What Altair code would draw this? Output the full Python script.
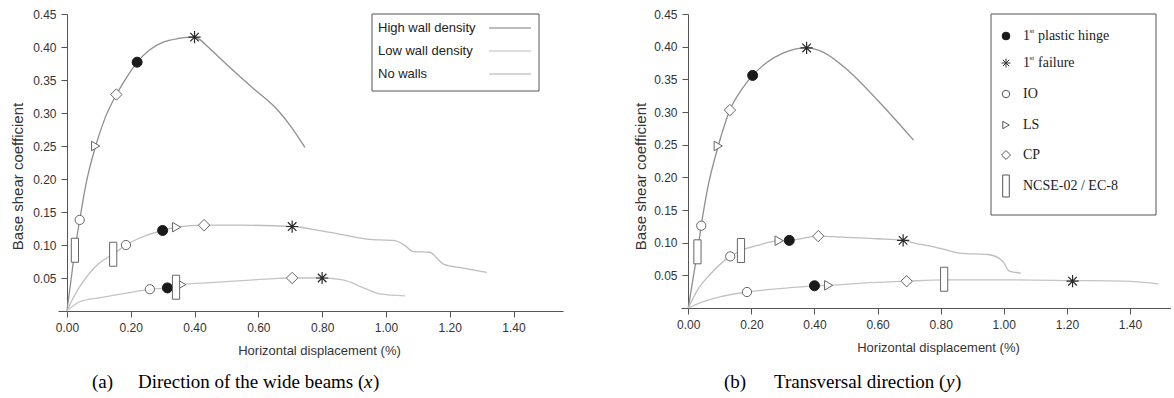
import altair as alt
import pandas as pd

# ---------------- data: panel (a) direction of the wide beams ----------------
SERIES = ["High wall density", "Low wall density", "No walls"]
LINE_COLORS = ["#8f8f8f", "#bdbdbd", "#c4c4c4"]

a_high_x = [0, 0.012, 0.025, 0.04, 0.06, 0.09, 0.12, 0.155, 0.19, 0.22, 0.26, 0.30, 0.35, 0.40, 0.42, 0.44, 0.50, 0.58, 0.66, 0.70, 0.746]
a_high_y = [0, 0.044, 0.092, 0.138, 0.193, 0.25, 0.293, 0.328, 0.356, 0.377, 0.396, 0.407, 0.413, 0.415, 0.410, 0.401, 0.374, 0.339, 0.305, 0.281, 0.248]
a_low_x = [0, 0.02, 0.05, 0.10, 0.145, 0.185, 0.23, 0.27, 0.30, 0.344, 0.43, 0.55, 0.706, 0.803, 0.87, 0.94, 1.028, 1.06, 1.086, 1.138, 1.16, 1.18, 1.242, 1.316]
a_low_y = [0, 0.02, 0.044, 0.072, 0.086, 0.10, 0.111, 0.118, 0.122, 0.127, 0.130, 0.130, 0.128, 0.121, 0.115, 0.109, 0.1065, 0.099, 0.090, 0.089, 0.080, 0.071, 0.065, 0.0586]
a_none_x = [0, 0.04, 0.10, 0.21, 0.26, 0.315, 0.36, 0.45, 0.55, 0.65, 0.706, 0.80, 0.865, 0.94, 0.98, 1.06]
a_none_y = [0, 0.014, 0.02, 0.029, 0.033, 0.035, 0.040, 0.043, 0.046, 0.049, 0.050, 0.050, 0.047, 0.033, 0.026, 0.023]

# markers: [high, low, no walls]
a_mark_x = {
    "hinge":   [0.22, 0.30, 0.315],
    "failure": [0.40, 0.706, 0.80],
    "IO":      [0.04, 0.185, 0.26],
    "LS":      [0.09, 0.344, 0.36],
    "CP":      [0.155, 0.43, 0.706],
    "NCSE":    [0.025, 0.145, 0.342],
}
a_mark_y = {
    "hinge":   [0.377, 0.122, 0.035],
    "failure": [0.415, 0.128, 0.050],
    "IO":      [0.138, 0.10, 0.033],
    "LS":      [0.25, 0.127, 0.040],
    "CP":      [0.328, 0.130, 0.050],
    "NCSE":    [0.092, 0.086, 0.036],
}

# ---------------- data: panel (b) transversal direction ----------------
b_high_x = [0, 0.015, 0.029, 0.041, 0.06, 0.095, 0.132, 0.17, 0.204, 0.25, 0.30, 0.375, 0.43, 0.51, 0.60, 0.714]
b_high_y = [0, 0.045, 0.086, 0.126, 0.18, 0.248, 0.303, 0.335, 0.356, 0.376, 0.390, 0.398, 0.391, 0.362, 0.318, 0.257]
b_low_x = [0, 0.03, 0.07, 0.133, 0.167, 0.22, 0.288, 0.32, 0.412, 0.5, 0.6, 0.681, 0.72, 0.775, 0.827, 0.859, 0.954, 0.996, 1.017, 1.054]
b_low_y = [0, 0.028, 0.052, 0.079, 0.088, 0.096, 0.103, 0.1035, 0.110, 0.108, 0.106, 0.1035, 0.099, 0.094, 0.0876, 0.084, 0.0815, 0.072, 0.0565, 0.0535]
b_none_x = [0, 0.05, 0.10, 0.186, 0.3, 0.4, 0.445, 0.55, 0.692, 0.811, 1.0, 1.218, 1.38, 1.49]
b_none_y = [0, 0.01, 0.017, 0.0245, 0.03, 0.034, 0.0347, 0.038, 0.041, 0.043, 0.043, 0.042, 0.041, 0.037]

b_mark_x = {
    "hinge":   [0.204, 0.32, 0.40],
    "failure": [0.375, 0.681, 1.218],
    "IO":      [0.041, 0.133, 0.186],
    "LS":      [0.095, 0.288, 0.445],
    "CP":      [0.132, 0.412, 0.692],
    "NCSE":    [0.029, 0.167, 0.811],
}
b_mark_y = {
    "hinge":   [0.356, 0.1035, 0.034],
    "failure": [0.398, 0.1035, 0.041],
    "IO":      [0.126, 0.079, 0.0245],
    "LS":      [0.248, 0.103, 0.0347],
    "CP":      [0.303, 0.110, 0.041],
    "NCSE":    [0.086, 0.088, 0.044],
}

X_TICKS = [0.0, 0.2, 0.4, 0.6, 0.8, 1.0, 1.2, 1.4]
Y_TICKS = [0.05, 0.10, 0.15, 0.20, 0.25, 0.30, 0.35, 0.40, 0.45]

SANS = "Liberation Sans"
SERIF = "Liberation Serif"
ASTERISK = "M -1 0 L 1 0 M 0 -1 L 0 1 M -0.7 -0.7 L 0.7 0.7 M -0.7 0.7 L 0.7 -0.7"
RECT = "M -0.3 -1 L 0.3 -1 L 0.3 1 L -0.3 1 Z"

MARK_STYLE = {
    "hinge":   dict(shape="circle", size=100, fill="#1a1a1a", stroke="#1a1a1a", sw=1),
    "failure": dict(shape=ASTERISK, size=150, fill="white", stroke="#2a2a2a", sw=1.2),
    "IO":      dict(shape="circle", size=85, fill="white", stroke="#666666", sw=1),
    "LS":      dict(shape="triangle-right", size=90, fill="white", stroke="#666666", sw=1),
    "CP":      dict(shape="diamond", size=130, fill="white", stroke="#666666", sw=1),
    "NCSE":    dict(shape=RECT, size=576, fill="white", stroke="#666666", sw=1),
}

ONE = pd.DataFrame({"k": [0]})


def curves_df(xs_list, ys_list):
    rows = []
    for s, xs, ys in zip(SERIES, xs_list, ys_list):
        for i, (x, y) in enumerate(zip(xs, ys)):
            rows.append({"series": s, "i": i, "x": x, "y": y})
    return pd.DataFrame(rows)


def markers_df(mx, my):
    rows = []
    for k in mx:
        for s, x, y in zip(SERIES, mx[k], my[k]):
            rows.append({"kind": k, "series": s, "x": x, "y": y})
    return pd.DataFrame(rows)


def txt(s, px, py, size, font, color="#222222", style="normal", align="left", baseline="middle"):
    return alt.Chart(ONE).mark_text(
        text=s, align=align, baseline=baseline, font=font, fontSize=size,
        fontStyle=style, color=color
    ).encode(x=alt.value(px), y=alt.value(py))


def sym(shape, px, py, size, fill, stroke):
    return alt.Chart(ONE).mark_point(
        shape=shape, size=size, filled=True, fill=fill, stroke=stroke,
        strokeWidth=1, opacity=1
    ).encode(x=alt.value(px), y=alt.value(py))


def panel(cdf, mdf, width, height, xdom, yoffset, title_x, title_y_x, legend_layers):
    X = alt.X("x:Q", scale=alt.Scale(domain=xdom, nice=False, zero=False),
              axis=alt.Axis(values=X_TICKS, format=".2f", title="Horizontal displacement (%)",
                            titleX=title_x, titleY=39, titleBaseline="middle", titleAlign="center"))
    Y = alt.Y("y:Q", scale=alt.Scale(domain=[0, 0.45], nice=False),
              axis=alt.Axis(values=Y_TICKS, format=".2f", title="Base shear coefficient",
                            offset=yoffset, titleX=title_y_x, titleY=162,
                            titleBaseline="middle", titleAlign="center", titleFontSize=15))
    lines = alt.Chart(cdf).mark_line(interpolate="monotone", strokeWidth=1.3).encode(
        x=X, y=Y,
        color=alt.Color("series:N", scale=alt.Scale(domain=SERIES, range=LINE_COLORS), legend=None),
        order="i:Q",
    )
    layers = [lines]
    for k, st in MARK_STYLE.items():
        layers.append(
            alt.Chart(mdf).transform_filter(alt.datum.kind == k).mark_point(
                shape=st["shape"], size=st["size"], filled=True, fill=st["fill"],
                stroke=st["stroke"], strokeWidth=st["sw"], opacity=1
            ).encode(x=X, y=Y)
        )
    layers += legend_layers
    return alt.layer(*layers).properties(width=width, height=height)


# ---------------- legends and captions ----------------
left_legend = [
    alt.Chart(ONE).mark_rect(fill="white", stroke="#555555", strokeWidth=1).encode(
        x=alt.value(314), x2=alt.value(481), y=alt.value(0), y2=alt.value(77)),
]
leg_line_colors = ["#a8a8a8", "#d2d2d2", "#c8c8c8"]
for j, (s, c) in enumerate(zip(SERIES, leg_line_colors)):
    yy = 14 + 23 * j
    left_legend.append(txt(s, 320, yy, 13, SANS))
    left_legend.append(alt.Chart(ONE).mark_rule(color=c, strokeWidth=1.3).encode(
        x=alt.value(431), x2=alt.value(473), y=alt.value(yy)))
left_legend += [
    txt("(a)", 34, 374, 19, SERIF, color="#000000", baseline="alphabetic"),
    txt("Direction of the wide beams (", 80, 374, 19, SERIF, color="#000000", baseline="alphabetic"),
    txt("x", 306, 374, 19, SERIF, color="#000000", style="italic", baseline="alphabetic"),
    txt(")", 315, 374, 19, SERIF, color="#000000", baseline="alphabetic"),
]

right_legend = [
    alt.Chart(ONE).mark_rect(fill="white", stroke="#555555", strokeWidth=1).encode(
        x=alt.value(310), x2=alt.value(475), y=alt.value(0), y2=alt.value(201)),
]
leg_rows = [
    ("hinge", "plastic hinge", 22, dict(shape="circle", size=60, fill="#1a1a1a", stroke="#1a1a1a")),
    ("failure", "failure", 49, dict(shape=ASTERISK, size=80, fill="white", stroke="#333333")),
    ("IO", "IO", 80, dict(shape="circle", size=55, fill="white", stroke="#555555")),
    ("LS", "LS", 111, dict(shape="triangle-right", size=55, fill="white", stroke="#555555")),
    ("CP", "CP", 141, dict(shape="diamond", size=80, fill="white", stroke="#555555")),
    ("NCSE", "NCSE-02 / EC-8", 172, dict(shape=RECT, size=484, fill="white", stroke="#555555")),
]
for k, label, yy, st in leg_rows:
    right_legend.append(sym(st["shape"], 325, yy, st["size"], st["fill"], st["stroke"]))
    if k in ("hinge", "failure"):
        right_legend.append(txt("1", 342, yy, 14, SERIF))
        right_legend.append(txt("st", 348.5, yy - 5, 7, SERIF))
        right_legend.append(txt(label, 357, yy, 14, SERIF))
    else:
        right_legend.append(txt(label, 342, yy, 14, SERIF))
right_legend += [
    txt("(b)", 43, 374, 19, SERIF, color="#000000", baseline="alphabetic"),
    txt("Transversal direction (", 93, 374, 19, SERIF, color="#000000", baseline="alphabetic"),
    txt("y", 265, 374, 19, SERIF, color="#000000", style="italic", baseline="alphabetic"),
    txt(")", 274, 374, 19, SERIF, color="#000000", baseline="alphabetic"),
]

left = panel(
    curves_df([a_high_x, a_low_x, a_none_x], [a_high_y, a_low_y, a_none_y]),
    markers_df(a_mark_x, a_mark_y),
    505, 297, [-0.028, -0.028 + 505 / 319.0], -9, 261, -49.5, left_legend,
)
right = panel(
    curves_df([b_high_x, b_low_x, b_none_x], [b_high_y, b_low_y, b_none_y]),
    markers_df(b_mark_x, b_mark_y),
    490, 294, [-0.0231, -0.0231 + 490 / 315.5], -7, 257, -48, right_legend,
)

chart = alt.hconcat(left, right, spacing=70).properties(
    padding={"left": 10, "top": 8, "right": 0, "bottom": 0}
).configure_view(stroke=None).configure_axis(
    grid=False,
    domainColor="#555555",
    tickColor="#555555",
    tickSize=6,
    labelPadding=5,
    labelFont=SANS,
    labelFontSize=12,
    labelColor="#333333",
    titleFont=SANS,
    titleFontSize=13,
    titleFontWeight="normal",
    titleColor="#333333",
)

chart.save("out.html", embed_options={"renderer": "svg", "actions": False})
